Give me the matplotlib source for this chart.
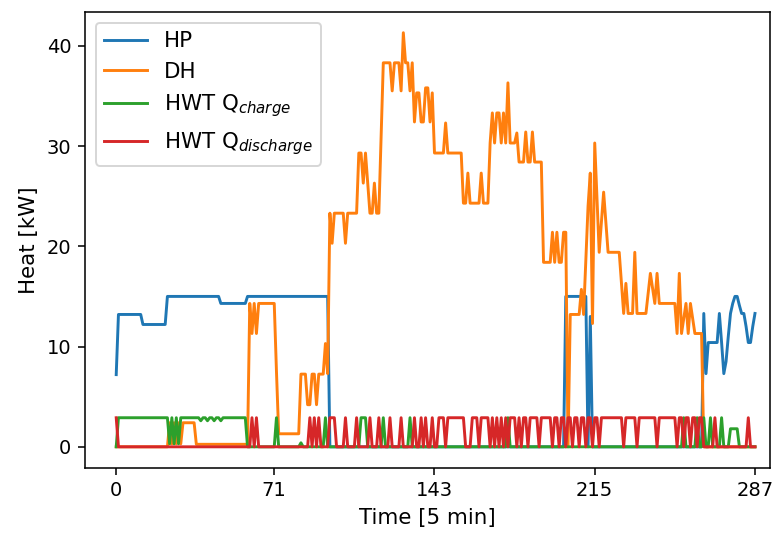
import numpy as np
import matplotlib
matplotlib.use("Agg")
import matplotlib.pyplot as plt

# Heat flows over one day at 5-minute resolution (288 steps).
# Each series is stored as run-length pairs: (value in kW, number of steps).
hp_runs = [
    (7.2, 1), (13.2, 11), (12.2, 11), (15.0, 24), (14.3, 12), (15.0, 37),
    (0.0, 106), (15.0, 10), (0.0, 1), (13.0, 1), (0.0, 50),
    (13.3, 1), (7.3, 1), (10.4, 5), (13.3, 1), (10.4, 1), (7.3, 1),
    (8.5, 1), (11.0, 1), (13.3, 1), (14.3, 1), (15.0, 2), (14.1, 1),
    (13.3, 2), (12.0, 1), (10.4, 2), (12.0, 1), (13.3, 1),
]

dh_runs = [
    (0.0, 24), (2.4, 1), (0.3, 1), (2.4, 1), (0.3, 1), (2.4, 1), (0.3, 1),
    (2.4, 6), (0.25, 24),
    (14.3, 1), (11.3, 1), (14.3, 1), (11.3, 1), (14.3, 8), (7.5, 1),
    (1.3, 10), (7.25, 3), (4.2, 2), (7.25, 2), (4.2, 1), (7.25, 3),
    (10.3, 1), (7.3, 1),
    (23.3, 1), (20.3, 1), (23.3, 5), (20.3, 1), (23.3, 5),
    (29.3, 2), (26.3, 1), (29.3, 1), (26.3, 1), (23.3, 2), (26.3, 1),
    (23.3, 2), (30.8, 1),
    (38.3, 4), (35.5, 1), (38.3, 3), (35.5, 1), (41.3, 1), (38.3, 2),
    (35.5, 1), (38.3, 1), (32.4, 1), (35.3, 2), (32.4, 2), (35.8, 2),
    (32.4, 1), (35.3, 1),
    (29.3, 5), (32.3, 1), (29.3, 7), (24.3, 2), (27.3, 1), (24.3, 5),
    (27.3, 1), (24.3, 3),
    (30.3, 1), (33.3, 1), (30.3, 1), (33.3, 2), (30.3, 1), (33.3, 1),
    (30.3, 1), (36.3, 1), (30.3, 3), (31.3, 1), (28.4, 3), (31.4, 1),
    (28.4, 2), (31.4, 1), (28.4, 4),
    (18.4, 4), (21.4, 1), (18.4, 1), (21.4, 1), (18.4, 2), (21.4, 2),
    (0.0, 1), (13.2, 5), (15.7, 1), (13.2, 1),
    (18.6, 1), (24.0, 1), (27.3, 1), (12.3, 1), (30.3, 1), (24.8, 1),
    (19.4, 1), (22.4, 1), (25.4, 1), (22.4, 1), (19.4, 6), (16.3, 1),
    (13.3, 1), (16.3, 1), (13.3, 3), (19.4, 1), (13.3, 5), (15.3, 1),
    (17.3, 1), (15.8, 1), (14.3, 1), (17.3, 1), (14.3, 8),
    (11.3, 1), (17.3, 1), (11.3, 1), (12.8, 1), (14.3, 1), (11.3, 1),
    (14.3, 1), (12.8, 1), (11.3, 4),
    (0.0, 24),
]

charge_runs = [
    (0.0, 1), (2.9, 23), (0.3, 1), (2.9, 1), (0.3, 1), (2.9, 1), (0.3, 1),
    (2.9, 9), (2.6, 1), (2.9, 2), (2.6, 1), (2.9, 2), (2.6, 1), (2.9, 2),
    (2.6, 1), (2.9, 11),
    (0.0, 13), (2.9, 1), (0.0, 10), (0.4, 1), (0.0, 10), (2.9, 1),
    (0.0, 15), (2.9, 3), (0.0, 7), (2.9, 1), (0.0, 11), (2.9, 1),
    (0.0, 43), (2.9, 1), (0.0, 78), (2.9, 1), (0.0, 5), (2.9, 1),
    (0.0, 2), (2.9, 1), (0.0, 2), (2.9, 1), (0.0, 4), (2.9, 1),
    (0.0, 3), (1.8, 4), (0.0, 8),
]

discharge_runs = [
    (2.9, 1), (0.0, 60), (2.9, 1), (0.0, 1), (2.9, 1), (0.0, 23),
    (2.9, 1), (0.0, 1), (2.9, 1), (0.0, 1), (2.9, 1), (0.0, 4),
    (2.9, 3), (0.0, 4), (2.9, 1), (0.0, 4), (2.9, 1), (0.0, 5),
    (2.9, 1), (0.0, 3), (2.9, 1), (0.0, 4), (2.9, 1), (0.0, 4),
    (2.9, 1), (0.0, 5), (2.9, 1), (0.0, 2), (2.9, 1), (0.0, 1),
    (2.9, 1), (0.0, 2), (2.9, 1), (0.0, 2),
    (2.9, 3), (0.0, 1), (2.9, 8), (0.0, 3), (2.9, 3), (0.0, 1),
    (2.9, 4), (0.0, 1), (2.9, 1), (0.0, 1), (2.9, 1), (0.0, 1),
    (2.9, 1), (0.0, 1), (2.9, 1), (0.0, 1), (2.9, 3), (0.0, 1),
    (2.9, 1), (0.0, 1), (2.9, 2), (0.0, 1), (2.9, 4), (0.0, 1),
    (2.9, 5), (0.0, 1), (2.9, 2), (0.0, 1), (2.9, 2), (0.0, 1),
    (2.9, 2), (0.0, 1), (2.9, 2), (0.0, 1), (2.9, 2), (0.0, 1),
    (2.9, 2), (0.0, 1), (2.9, 2), (0.0, 1), (2.9, 10), (0.0, 1),
    (2.9, 5), (0.0, 1), (2.9, 8), (0.0, 1), (2.9, 8), (0.0, 1),
    (2.9, 2), (0.0, 1), (2.9, 2), (0.0, 1), (2.9, 2), (0.0, 1),
    (2.9, 2), (0.0, 5), (2.9, 1), (0.0, 14), (2.9, 1), (0.0, 3),
]

series_labels = ["HP", "DH", "HWT Q$_{charge}$", "HWT Q$_{discharge}$"]
tick_values = [0, 71, 143, 215, 287]
n_steps = 288


def expand(runs):
    values = np.concatenate([np.full(n, v) for v, n in runs])
    assert len(values) == n_steps, len(values)
    return values


t = np.arange(n_steps)
hp = expand(hp_runs)
dh = expand(dh_runs)
q_charge = expand(charge_runs)
q_discharge = expand(discharge_runs)

plt.rcParams.update({
    "xtick.labelsize": 10,
    "ytick.labelsize": 10,
    "axes.labelsize": 11,
    "legend.fontsize": 11,
})

dpi = 140
fig = plt.figure(figsize=(784 / dpi, 534 / dpi), dpi=dpi)
ax = fig.add_axes([0.1085, 0.1245, 0.8735, 0.853])

for y, label in zip([hp, dh, q_charge, q_discharge], series_labels):
    ax.plot(t, y, label=label)

ax.set_xlim(-14.0, 293.7)
ax.set_xticks(tick_values)
ax.set_xticklabels([str(v) for v in tick_values])
ax.set_xlabel("Time [5 min]")
ax.set_ylabel("Heat [kW]")
ax.legend(loc="upper left")

fig.savefig("out.png", dpi=dpi)
